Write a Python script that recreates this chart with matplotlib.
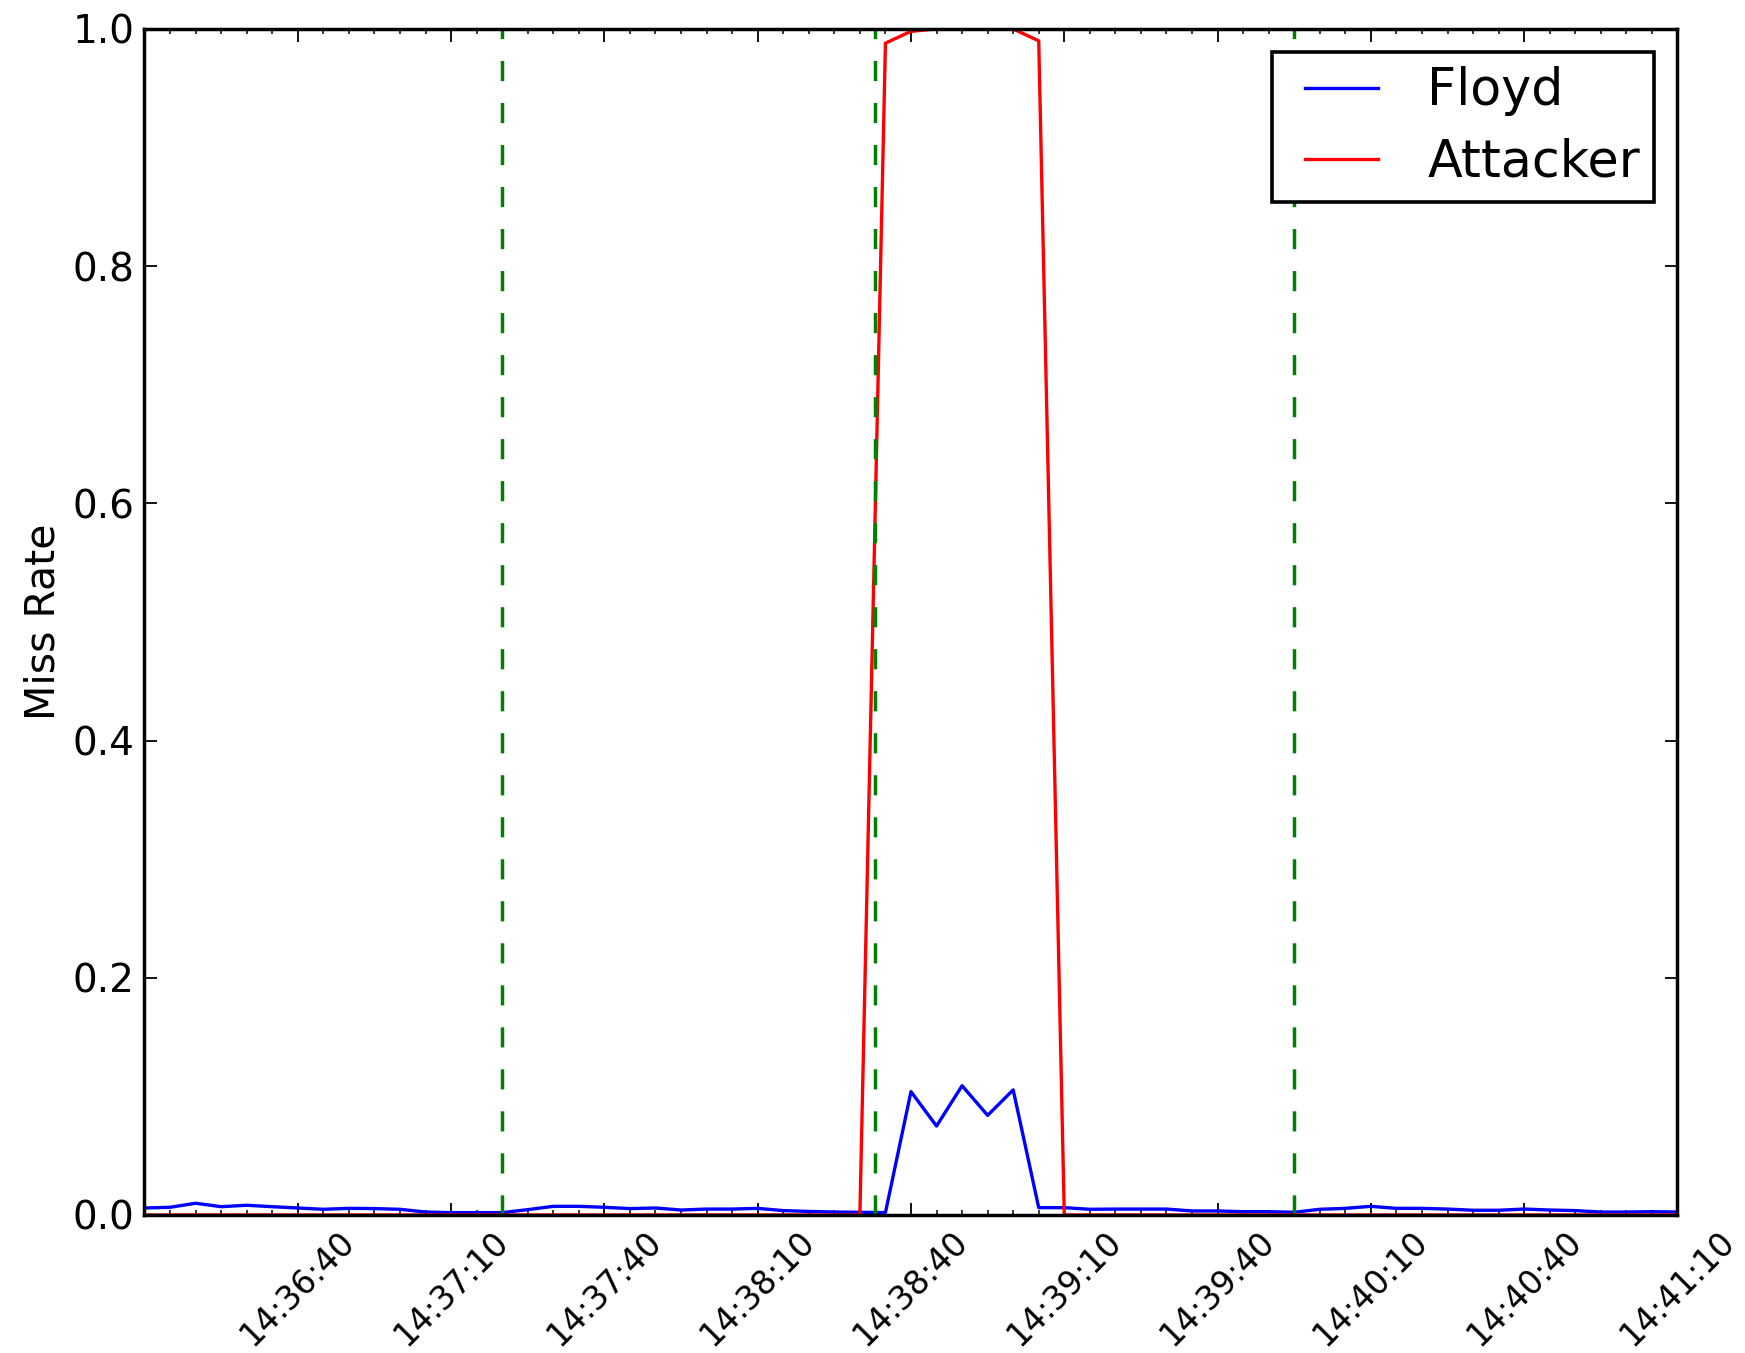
import datetime as dt
import matplotlib
matplotlib.use("Agg")
import matplotlib.pyplot as plt
import matplotlib.dates as mdates
from matplotlib.ticker import FixedLocator, FixedFormatter
from matplotlib.legend_handler import HandlerLine2D

# ---------------- data ----------------
day = "2015-01-01"
start_time = "14:36:10"
step_seconds = 5

floyd = [0.0059, 0.0065, 0.0099, 0.0070, 0.0082, 0.0070, 0.0059, 0.0048, 0.0056, 0.0054,
         0.0048, 0.0025, 0.0020, 0.0020, 0.0020, 0.0045, 0.0073, 0.0073, 0.0065, 0.0054,
         0.0059, 0.0042, 0.0050, 0.0050, 0.0056, 0.0037, 0.0030, 0.0025, 0.0023, 0.0020,
         0.1040, 0.0750, 0.1090, 0.0840, 0.1055, 0.0062, 0.0062, 0.0048, 0.0050, 0.0050,
         0.0050, 0.0034, 0.0034, 0.0028, 0.0028, 0.0023, 0.0048, 0.0056, 0.0073, 0.0056,
         0.0056, 0.0050, 0.0040, 0.0040, 0.0050, 0.0042, 0.0037, 0.0025, 0.0025, 0.0028,
         0.0025]

attacker = [0.0] * 29 + [0.988, 0.998, 1.0, 1.0, 1.0, 1.0, 0.990] + [0.0] * 25

attack_marks = ["14:37:20", "14:38:33", "14:39:55"]

xtick_labels = ["14:36:40", "14:37:10", "14:37:40", "14:38:10", "14:38:40",
                "14:39:10", "14:39:40", "14:40:10", "14:40:40", "14:41:10"]
yticks = [0.0, 0.2, 0.4, 0.6, 0.8, 1.0]
ytick_labels = ["0.0", "0.2", "0.4", "0.6", "0.8", "1.0"]

series_labels = ["Floyd", "Attacker"]
ylabel = "Miss Rate"


def to_dt(s):
    return dt.datetime.strptime(day + " " + s, "%Y-%m-%d %H:%M:%S")


t0 = to_dt(start_time)
times = [t0 + dt.timedelta(seconds=step_seconds * i) for i in range(len(floyd))]

# ---------------- figure ----------------
fig = plt.figure(figsize=(17.45, 13.53), dpi=100)
ax = fig.add_axes([0.0828, 0.1020, 0.8785, 0.8766])

ax.plot(times, floyd, color="b", lw=2.4, label=series_labels[0])
ax.plot(times, attacker, color="r", lw=2.4, label=series_labels[1])
for m in attack_marks:
    ax.axvline(to_dt(m), color=(0, 0.5, 0), lw=2.5, linestyle=(0, (5.8, 6.3)))

ax.set_xlim(times[0], times[-1])
ax.set_ylim(0, 1)

ax.xaxis.set_major_locator(FixedLocator([mdates.date2num(to_dt(s)) for s in xtick_labels]))
ax.xaxis.set_major_formatter(FixedFormatter(xtick_labels))
ax.xaxis.set_minor_locator(mdates.SecondLocator(bysecond=range(0, 60, 5)))
ax.yaxis.set_major_locator(FixedLocator(yticks))
ax.yaxis.set_major_formatter(FixedFormatter(ytick_labels))

ax.tick_params(which="both", direction="in", top=True, right=True, colors="black")
ax.tick_params(which="major", length=9, width=1.3)
ax.tick_params(which="minor", length=3.5, width=1.1)
ax.tick_params(axis="y", which="major", pad=7, labelsize=28)
ax.tick_params(axis="x", which="major", pad=7, labelsize=23.5)

for lab in ax.get_xticklabels():
    lab.set_rotation(45)
    lab.set_ha("center")

for sp in ax.spines.values():
    sp.set_linewidth(2.5)

ax.set_ylabel(ylabel, fontsize=29.5, labelpad=7)

leg = ax.legend(loc="upper right", fontsize=36.5, fancybox=False, framealpha=1,
                edgecolor="black", borderpad=0.28, handlelength=1.815,
                handletextpad=0.97, labelspacing=0.42, borderaxespad=0.46,
                handler_map={plt.Line2D: HandlerLine2D(xpad=0.375)})
leg.get_frame().set_linewidth(2.6)

fig.savefig("out.png", dpi=100)
